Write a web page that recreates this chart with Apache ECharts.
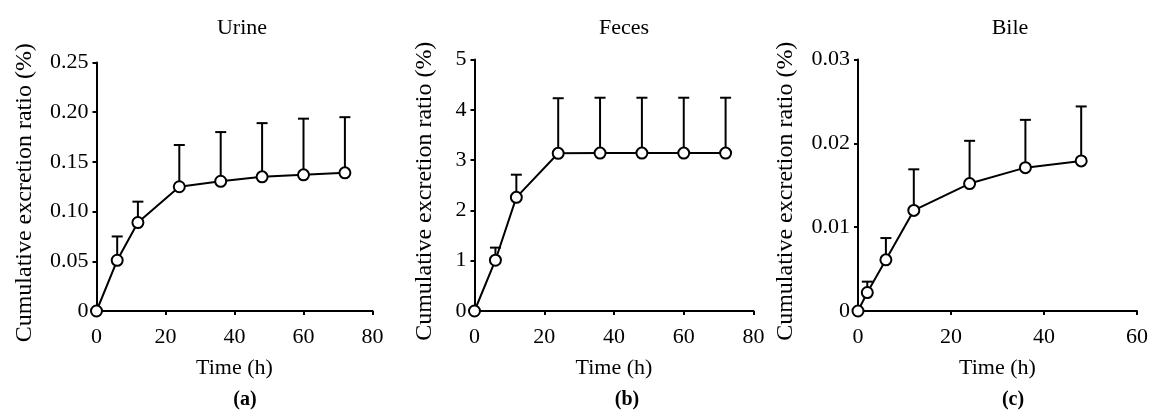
<!DOCTYPE html>
<html>
<head>
<meta charset="utf-8">
<script src="https://cdn.jsdelivr.net/npm/echarts@6/dist/echarts.min.js"></script>
<style>
  html, body { margin: 0; padding: 0; background: #fff; }
  #main { width: 1151px; height: 417px; }
</style>
</head>
<body>
<div id="main"></div>
<script>
// time points (h)
var urineTime = [0, 6, 12, 24, 36, 48, 60, 72];
var urineMean = [0, 0.051, 0.089, 0.125, 0.1305, 0.135, 0.137, 0.139];
var urineTop  = [0, 0.075, 0.110, 0.167, 0.180, 0.189, 0.1935, 0.195];

var fecesTime = [0, 6, 12, 24, 36, 48, 60, 72];
var fecesMean = [0, 1.01, 2.26, 3.135, 3.14, 3.14, 3.14, 3.14];
var fecesTop  = [0, 1.26, 2.71, 4.23, 4.24, 4.24, 4.24, 4.24];

var bileTime = [0, 2, 6, 12, 24, 36, 48];
var bileMean = [0, 0.0022, 0.0061, 0.0120, 0.0152, 0.0171, 0.0179];
var bileTop  = [0, 0.0035, 0.0087, 0.0169, 0.0203, 0.0228, 0.0244];

var urineTicks = ['0', '0.05', '0.10', '0.15', '0.20', '0.25'];
var fecesTicks = ['0', '1', '2', '3', '4', '5'];
var bileTicks  = ['0', '0.01', '0.02', '0.03'];

var titles = ['Urine', 'Feces', 'Bile'];
var letters = ['(a)', '(b)', '(c)'];

var FONT = 'Liberation Serif';
var chart = echarts.init(document.getElementById('main'));

var panels = [
  { time: urineTime, mean: urineMean, top: urineTop, ticks: urineTicks, step: 0.05, xmax: 80,
    grid: { left: 96.5, top: 62.5, width: 276, height: 248.5 }, cx: 237, nameGap: 60 },
  { time: fecesTime, mean: fecesMean, top: fecesTop, ticks: fecesTicks, step: 1, xmax: 80,
    grid: { left: 474.5, top: 59.5, width: 279, height: 251.5 }, cx: 619, nameGap: 38 },
  { time: bileTime, mean: bileMean, top: bileTop, ticks: bileTicks, step: 0.01, xmax: 60,
    grid: { left: 858, top: 59.5, width: 279, height: 251.5 }, cx: 1005, nameGap: 60 }
];

var grids = [], xAxes = [], yAxes = [], series = [], titleList = [];

panels.forEach(function (p, i) {
  grids.push(p.grid);
  var axisLine = { show: true, lineStyle: { color: '#000', width: 2 } };
  var axisTick = { show: true, length: 4, lineStyle: { color: '#000', width: 2 } };
  xAxes.push({
    type: 'value', gridIndex: i, min: 0, max: p.xmax, interval: 20,
    axisLine: axisLine, axisTick: axisTick, splitLine: { show: false },
    axisLabel: { color: '#000', fontFamily: FONT, fontSize: 22, margin: 15 },
    name: 'Time (h)', nameLocation: 'middle', nameGap: 46,
    nameTextStyle: { color: '#000', fontFamily: FONT, fontSize: 22 }
  });
  yAxes.push({
    type: 'value', gridIndex: i, min: 0, max: p.step * (p.ticks.length - 1), interval: p.step,
    axisLine: axisLine, axisTick: axisTick, splitLine: { show: false },
    axisLabel: {
      color: '#000', fontFamily: FONT, fontSize: 22, margin: 8,
      formatter: (function (ticks, step) {
        return function (v) { return ticks[Math.round(v / step)]; };
      })(p.ticks, p.step)
    },
    name: 'Cumulative excretion ratio (%)', nameLocation: 'middle', nameGap: p.nameGap,
    nameRotate: 90,
    nameTextStyle: { color: '#000', fontFamily: FONT, fontSize: 24, padding: [0, 12, 0, 0] }
  });

  var errData = p.time.map(function (t, k) { return [t, p.mean[k], p.top[k]]; });
  series.push({
    type: 'custom', xAxisIndex: i, yAxisIndex: i, z: 1,
    data: errData,
    renderItem: function (params, api) {
      var a = api.coord([api.value(0), api.value(1)]);
      var b = api.coord([api.value(0), api.value(2)]);
      var st = { stroke: '#000', lineWidth: 2 };
      return {
        type: 'group',
        children: [
          { type: 'line', shape: { x1: a[0], y1: a[1], x2: b[0], y2: b[1] }, style: st },
          { type: 'line', shape: { x1: b[0] - 5.5, y1: b[1], x2: b[0] + 5.5, y2: b[1] }, style: st }
        ]
      };
    }
  });
  series.push({
    type: 'line', xAxisIndex: i, yAxisIndex: i, z: 3,
    data: p.time.map(function (t, k) { return [t, p.mean[k]]; }),
    symbol: 'circle', symbolSize: 11,
    lineStyle: { color: '#000', width: 2 },
    itemStyle: { color: '#fff', borderColor: '#000', borderWidth: 2 }
  });

  titleList.push({
    text: titles[i], left: p.cx, top: 12, textAlign: 'center',
    textStyle: { color: '#000', fontFamily: FONT, fontSize: 22, fontWeight: 'normal' }
  });
  titleList.push({
    text: letters[i], left: p.cx + 3, top: 385, textAlign: 'center',
    textStyle: { color: '#000', fontFamily: FONT, fontSize: 20, fontWeight: 'bold' }
  });
});

chart.setOption({
  animation: false,
  backgroundColor: '#fff',
  title: titleList,
  grid: grids,
  xAxis: xAxes,
  yAxis: yAxes,
  series: series
});
</script>
</body>
</html>
